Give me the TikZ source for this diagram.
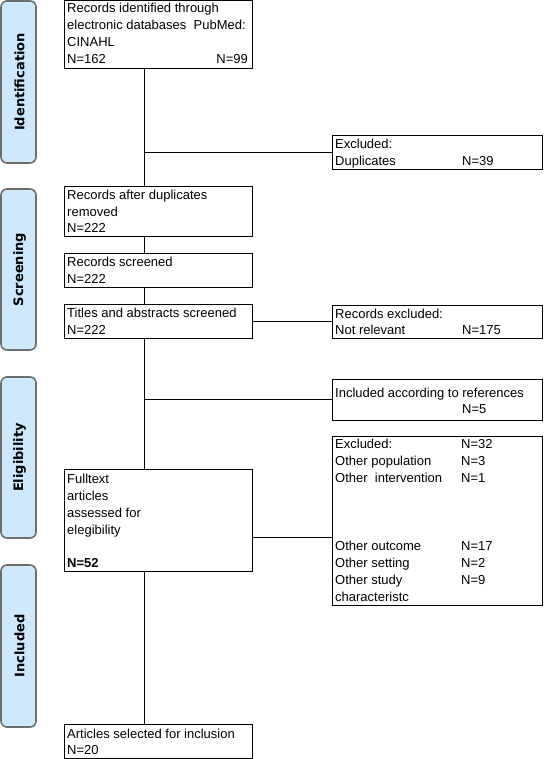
\documentclass[tikz,border=0pt]{standalone}
\usepackage{fontspec}
\setmainfont{Liberation Sans}
\newfontfamily\sidefont{DejaVu Sans}
\definecolor{sidefill}{HTML}{CDE9FB}
\definecolor{sideline}{HTML}{6E6E6E}
\begin{document}
\begin{tikzpicture}[x=1pt,y=-1pt,
  box/.style={draw=black,line width=1pt,fill=white,rectangle,anchor=north west,inner sep=0pt,outer sep=0pt},
  side/.style={draw=sideline,line width=1.6pt,fill=sidefill,rounded corners=6pt,rectangle,anchor=north west,inner sep=0pt,outer sep=0pt,minimum width=35pt},
  sidetxt/.style={font=\sidefont\bfseries\fontsize{13}{15}\selectfont,rotate=90,inner sep=0pt},
  txt/.style={font=\fontsize{13}{17}\selectfont,inner sep=0pt,anchor=base west},
  txtr/.style={font=\fontsize{13}{17}\selectfont,inner sep=0pt,anchor=base east},
  conn/.style={draw=black,line width=1pt}]
\useasboundingbox (0,0) rectangle (543,759);

% side labels
\node[side,minimum height=162pt] (s1) at (1,1) {};
\node[sidetxt] (s1t) at ([xshift=1pt]s1.center) {Identification};
\node[side,minimum height=161pt] (s2) at (1,189) {};
\node[sidetxt] (s2t) at ([xshift=1pt]s2.center) {Screening};
\node[side,minimum height=161pt] (s3) at (1,377) {};
\node[sidetxt] (s3t) at ([xshift=1pt]s3.center) {Eligibility};
\node[side,minimum height=162pt] (s4) at (1,565) {};
\node[sidetxt] (s4t) at ([xshift=1pt]s4.center) {Included};

% spine coordinate
\coordinate (spine) at (144.5,0);
\coordinate (c5) at (0,537);

% main boxes
\node[box,minimum width=188pt,minimum height=68pt] (b1) at (64,1) {};
\node[box,minimum width=188pt,minimum height=49pt] (b2) at (64,187) {};
\node[box,minimum width=188pt,minimum height=34pt] (b3) at (64,253) {};
\node[box,minimum width=188pt,minimum height=34pt] (b4) at (64,304) {};
\node[box,minimum width=188pt,minimum height=102pt] (b5) at (64,469) {};
\node[box,minimum width=188pt,minimum height=34pt] (b6) at (64,724) {};

% right boxes
\node[box,minimum width=210pt,minimum height=34pt] (e1) at (332,136) {};
\node[box,minimum width=210pt,minimum height=33pt] (e2) at (332,305) {};
\node[box,minimum width=210pt,minimum height=41pt] (r1) at (332,379) {};
\node[box,minimum width=210pt,minimum height=169pt] (e3) at (332,436) {};

% connectors
\draw[conn] (b1.south -| spine) -- (b2.north -| spine);
\draw[conn] (e1.west -| spine) -- (e1.west);
\draw[conn] (b2.south -| spine) -- (b3.north -| spine);
\draw[conn] (b3.south -| spine) -- (b4.north -| spine);
\draw[conn] (b4.east) -- (b4.east -| e2.west);
\draw[conn] (b4.south -| spine) -- (b5.north -| spine);
\draw[conn] (r1.west -| spine) -- (r1.west);
\draw[conn] (b5.east |- c5) -- (e3.west |- c5);
\draw[conn] (b5.south -| spine) -- (b6.north -| spine);

% texts box1
\node[txt] (t1a) at (67,13) {Records identified through};
\node[txt] (t1b) at (67,30) {electronic databases\ \ PubMed:};
\node[txt] (t1c) at (67,47) {CINAHL};
\node[txt] (t1d) at (67,64) {N=162};
\node[txtr] (t1e) at (248,64) {N=99};
% box2
\node[txt] (t2a) at (67,200) {Records after duplicates};
\node[txt] (t2b) at (67,217) {removed};
\node[txt] (t2c) at (67,233) {N=222};
% box3
\node[txt] (t3a) at (67,266) {Records screened};
\node[txt] (t3b) at (67,283) {N=222};
% box4
\node[txt] (t4a) at (67,317) {Titles and abstracts screened};
\node[txt] (t4b) at (67,334) {N=222};
% box5
\node[txt] (t5a) at (67,483) {Fulltext};
\node[txt] (t5b) at (67,500) {articles};
\node[txt] (t5c) at (67,517) {assessed for};
\node[txt] (t5d) at (67,534) {elegibility};
\node[txt,font=\bfseries\fontsize{13}{17}\selectfont] (t5e) at (67,567) {N=52};
% box6
\node[txt] (t6a) at (67,738) {Articles selected for inclusion};
\node[txt] (t6b) at (67,754) {N=20};

% e1
\node[txt] (u1a) at (335,149) {Excluded:};
\node[txt] (u1b) at (335,166) {Duplicates};
\node[txt] (u1c) at (462,166) {N=39};
% e2
\node[txt] (u2a) at (335,318) {Records excluded:};
\node[txt] (u2b) at (335,334) {Not relevant};
\node[txt] (u2c) at (462,334) {N=175};
% r1
\node[txt] (u3a) at (335,397) {Included according to references};
\node[txt] (u3b) at (462,413) {N=5};
% e3
\node[txt] (u4a) at (335,448) {Excluded:};
\node[txt] (u4b) at (461,448) {N=32};
\node[txt] (u4c) at (335,465) {Other population};
\node[txt] (u4d) at (461,465) {N=3};
\node[txt] (u4e) at (335,482) {Other\ \ intervention};
\node[txt] (u4f) at (461,482) {N=1};
\node[txt] (u4g) at (335,550) {Other outcome};
\node[txt] (u4h) at (461,550) {N=17};
\node[txt] (u4i) at (335,567) {Other setting};
\node[txt] (u4j) at (461,567) {N=2};
\node[txt] (u4k) at (335,584) {Other study};
\node[txt] (u4l) at (461,584) {N=9};
\node[txt] (u4m) at (335,601) {characteristc};
\end{tikzpicture}
\end{document}
